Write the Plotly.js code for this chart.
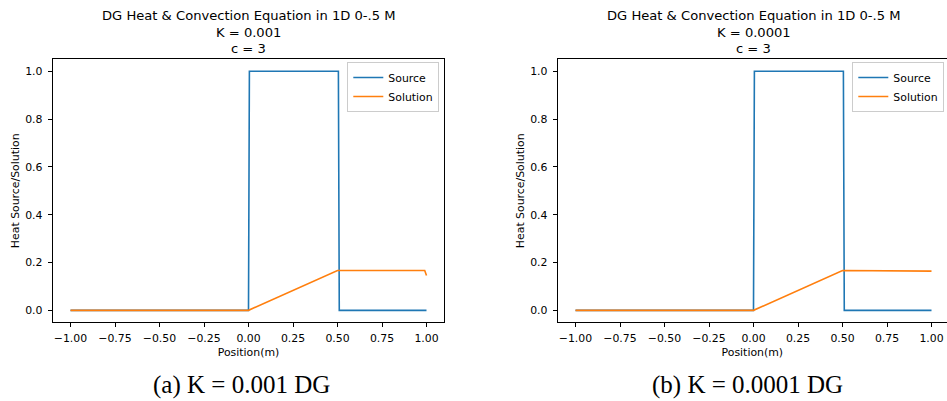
<!DOCTYPE html>
<html>
<head>
<meta charset="utf-8">
<script src="https://cdn.plot.ly/plotly-3.0.1.min.js"></script>
<style>
  html, body { margin: 0; padding: 0; background: #ffffff; }
  #chart { width: 947px; height: 401px; }
</style>
</head>
<body>
<div id="chart"></div>
<script>
// ---- data ----
const sourceX = [-1.0, 0.0, 0.005, 0.505, 0.51, 1.0];
const sourceY = [0, 0, 1, 1, 0, 0];

const solutionX_a = [-1.0, 0.0, 0.5, 0.99, 1.0];
const solutionY_a = [0, 0, 0.1667, 0.1667, 0.146];

const solutionX_b = [-1.0, 0.0, 0.5, 0.99, 1.0];
const solutionY_b = [0, 0, 0.1667, 0.1667, 0.164];

const xTickVals = [-1.0, -0.75, -0.5, -0.25, 0.0, 0.25, 0.5, 0.75, 1.0];
const yTickVals = [0.0, 0.2, 0.4, 0.6, 0.8, 1.0];

const titleLine1 = "DG Heat &amp; Convection Equation in 1D 0-.5 M";
const titleK_a = "K = 0.001";
const titleK_b = "K = 0.0001";
const titleC = "c = 3";
const caption_a = "(a) K = 0.001 DG";
const caption_b = "(b) K = 0.0001 DG";
const xLabel = "Position(m)";
const yLabel = "Heat Source/Solution";

// ---- layout helpers ----
const W = 947, H = 401;
const px = v => v / W;
const py = v => 1 - v / H;

const FONT = "DejaVu Sans, sans-serif";
const tickFont = { family: FONT, size: 10.9, color: "#000" };
const blue = "#1f77b4", orange = "#ff7f0e";

const traces = [
  { x: sourceX, y: sourceY, type: "scatter", mode: "lines", name: "Source",
    line: { color: blue, width: 1.6 }, xaxis: "x", yaxis: "y", legend: "legend" },
  { x: solutionX_a, y: solutionY_a, type: "scatter", mode: "lines", name: "Solution",
    line: { color: orange, width: 1.6 }, xaxis: "x", yaxis: "y", legend: "legend" },
  { x: sourceX, y: sourceY, type: "scatter", mode: "lines", name: "Source",
    line: { color: blue, width: 1.6 }, xaxis: "x2", yaxis: "y2", legend: "legend2" },
  { x: solutionX_b, y: solutionY_b, type: "scatter", mode: "lines", name: "Solution",
    line: { color: orange, width: 1.6 }, xaxis: "x2", yaxis: "y2", legend: "legend2" }
];

function xAxis(domain, range, anchor) {
  return {
    domain: domain, range: range, anchor: anchor,
    tickvals: xTickVals, tickformat: ".2f",
    ticks: "outside", ticklen: 4, tickwidth: 1, tickcolor: "#000",
    ticklabelstandoff: 2,
    showline: true, linecolor: "#000", linewidth: 1, mirror: true,
    showgrid: false, zeroline: false, tickfont: tickFont,
    title: { text: xLabel, font: tickFont, standoff: 3 }
  };
}
function yAxis(domain, anchor, mirror) {
  return {
    domain: domain, range: [-0.05, 1.05], anchor: anchor,
    tickvals: yTickVals, tickformat: ".1f",
    ticks: "outside", ticklen: 4, tickwidth: 1, tickcolor: "#000",
    ticklabelstandoff: 3,
    showline: true, linecolor: "#000", linewidth: 1, mirror: mirror,
    showgrid: false, zeroline: false, tickfont: tickFont,
    title: { text: yLabel, font: tickFont, standoff: 3 }
  };
}

const yDom = [py(322.3), py(59.3)];

function legendAt(rightPx) {
  return {
    x: px(rightPx), xanchor: "right", y: py(62), yanchor: "top",
    bgcolor: "rgba(255,255,255,0.8)", bordercolor: "#cccccc", borderwidth: 1,
    font: { family: FONT, size: 10.9, color: "#000" },
    tracegroupgap: 0, itemwidth: 30
  };
}

function ann(text, xc, yc, size, family) {
  return { text: text, x: px(xc), y: py(yc), xref: "paper", yref: "paper",
    xanchor: "center", yanchor: "middle", showarrow: false,
    font: { family: family || FONT, size: size, color: "#000" } };
}

const layout = {
  width: W, height: H,
  margin: { l: 0, r: 0, t: 0, b: 0 },
  paper_bgcolor: "#ffffff", plot_bgcolor: "#ffffff",
  showlegend: true,
  xaxis: xAxis([px(52.7), px(444.3)], [-1.1, 1.1], "y"),
  yaxis: yAxis(yDom, "x", true),
  xaxis2: xAxis([px(557.7), 1], [-1.1, -1.1 + (W - 557.7) / 178], "y2"),
  yaxis2: yAxis(yDom, "x2", false),
  legend: legendAt(439.3),
  legend2: legendAt(944.3),
  annotations: [
    ann(titleLine1, 248.5, 15.5, 13.1),
    ann(titleK_a, 248.5, 32, 13.1),
    ann(titleC, 248.5, 48.5, 13.1),
    ann(titleLine1, 753.5, 15.5, 13.1),
    ann(titleK_b, 753.5, 32, 13.1),
    ann(titleC, 753.5, 48.5, 13.1),
    ann(caption_a, 241.7, 385, 25, "Liberation Serif, serif"),
    ann(caption_b, 747.5, 385, 25, "Liberation Serif, serif")
  ]
};

Plotly.newPlot("chart", traces, layout, { staticPlot: true, displayModeBar: false });
</script>
</body>
</html>
